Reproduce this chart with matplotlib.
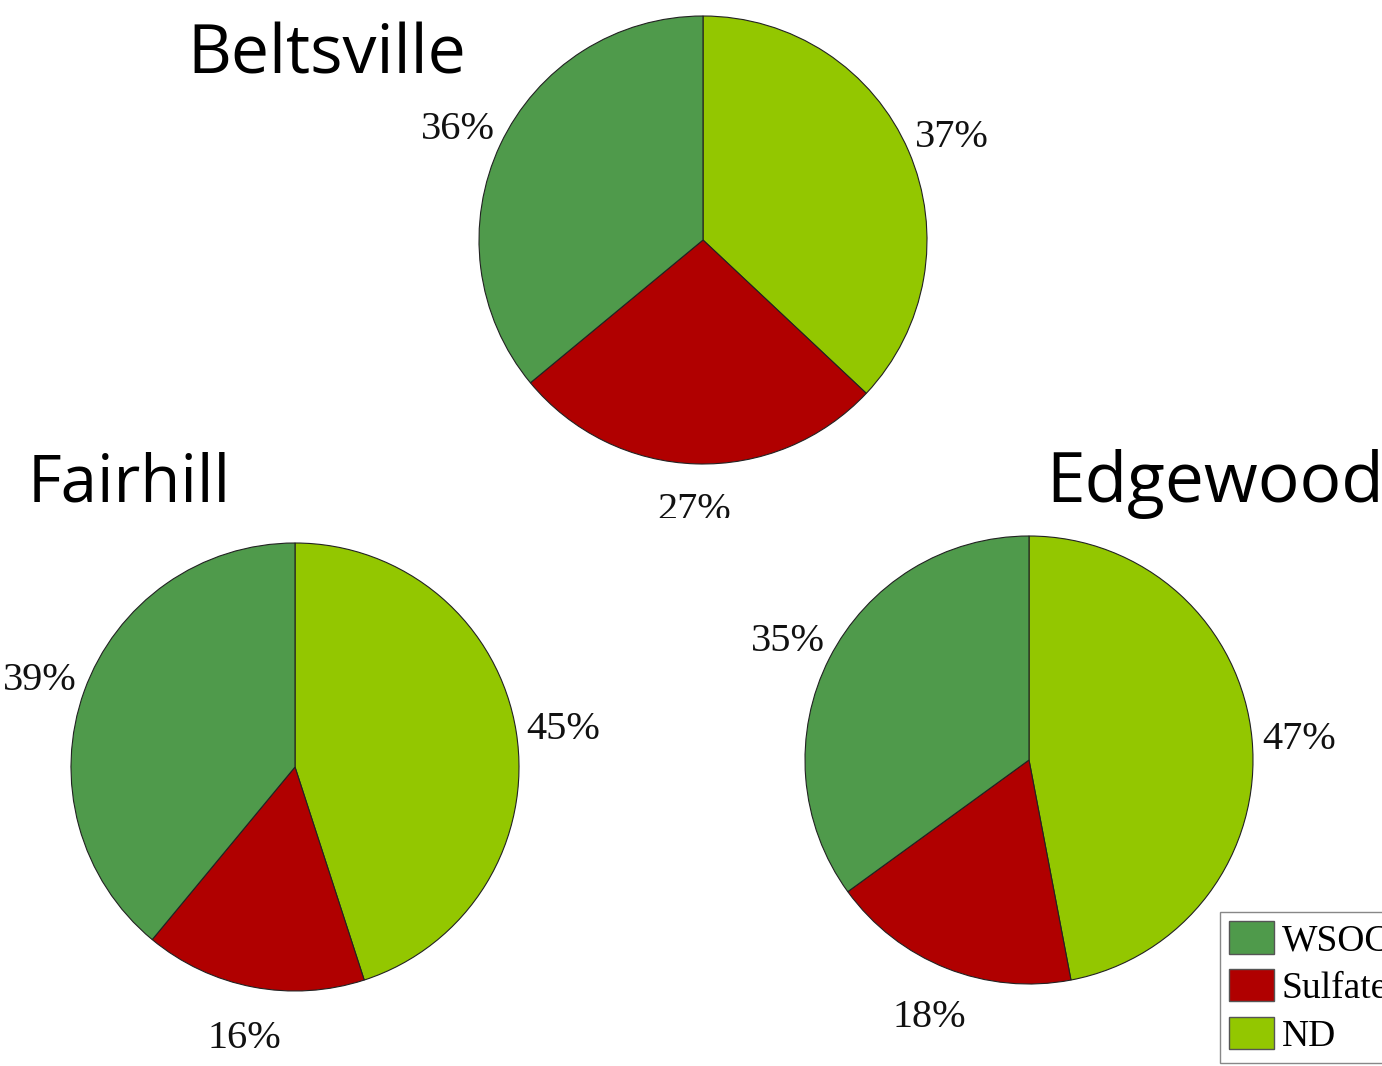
import matplotlib
matplotlib.use("Agg")
from matplotlib import pyplot as plt
from matplotlib.patches import Patch
from matplotlib.transforms import Bbox, TransformedBbox, offset_copy

W, H = 1382, 1066

components = ['ND', 'Sulfate', 'WSOC']
colors = ['#93C700', '#B00000', '#4F9A4B']

sites = ['Beltsville', 'Fairhill', 'Edgewood']
beltsville = [37, 27, 36]
fairhill = [45, 16, 39]
edgewood = [47, 18, 35]
values = [beltsville, fairhill, edgewood]

# pie centre / radius in pixels, title anchor (left, baseline) and size
centres = [(703, 240, 224), (295, 767, 224), (1029, 760, 224)]
title_pos = [(187, 74), (28, 502), (1046, 502)]
title_size = [49, 47, 50]

fig = plt.figure(figsize=(W / 100, H / 100), dpi=100)
fig.patch.set_facecolor('white')

serif = ['Liberation Serif', 'DejaVu Serif']

for i, site in enumerate(sites):
    cx, cy, r = centres[i]
    s = 1.5
    ax = fig.add_axes([(cx - s * r) / W, 1 - (cy + s * r) / H,
                       2 * s * r / W, 2 * s * r / H])
    wedges, texts, autotexts = ax.pie(
        values[i], colors=colors, startangle=90, counterclock=False,
        radius=1, autopct='%.0f%%', pctdistance=1.21,
        wedgeprops=dict(edgecolor='#222222', linewidth=0.8),
        textprops=dict(fontsize=29, family=serif, color='#111111'))
    ax.set_xlim(-s, s)
    ax.set_ylim(-s, s)
    ax.set_aspect('equal')
    ax.axis('off')
    for t in autotexts:
        t.set_clip_on(False)
    if site == 'Beltsville':
        # bottom label is cut off in the original
        clip = TransformedBbox(Bbox([[0, 1 - 518 / H], [1, 1]]), fig.transFigure)
        autotexts[1].set_clip_on(True)
        autotexts[1].set_clip_box(clip)
        shift = [autotexts[0], autotexts[2]]
    else:
        shift = autotexts
    for t in shift:
        # labels sit a little lower than matplotlib centres them
        t.set_transform(offset_copy(t.get_transform(), fig=fig, y=-5, units='dots'))
    tx, ty = title_pos[i]
    fig.text(tx / W, 1 - ty / H, site, fontsize=title_size[i], family='Open Sans',
             ha='left', va='baseline', color='black')

handles = [Patch(facecolor=colors[2], edgecolor='#555555', label='WSOC'),
           Patch(facecolor=colors[1], edgecolor='#555555', label='Sulfate'),
           Patch(facecolor=colors[0], edgecolor='#555555', label='ND')]
leg = fig.legend(handles=handles, loc='upper left',
                 bbox_to_anchor=(1220 / W, 1 - 912 / H),
                 bbox_transform=fig.transFigure,
                 prop=dict(family=serif, size=27), fancybox=False,
                 edgecolor='#888888', framealpha=1, borderaxespad=0,
                 handlelength=1.2, handleheight=0.95, handletextpad=0.2,
                 labelspacing=0.28, borderpad=0.25)
leg.get_frame().set_linewidth(1.0)

fig.savefig('out.png', dpi=100, facecolor='white')
